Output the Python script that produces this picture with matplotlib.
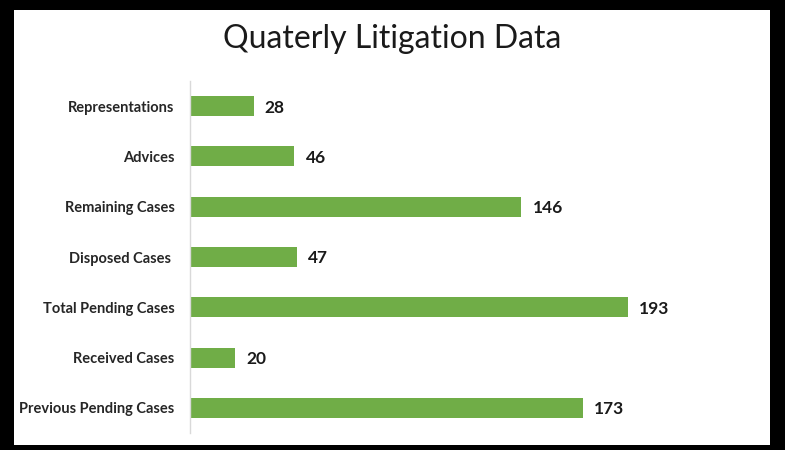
import matplotlib
matplotlib.use("Agg")
import matplotlib.pyplot as plt
from matplotlib.patches import Rectangle

# Chart data (bottom to top as drawn)
categories = ["Previous Pending Cases", "Received Cases", "Total Pending Cases",
              "Disposed Cases ", "Remaining Cases", "Advices", "Representations"]
values = [173, 20, 193, 47, 146, 46, 28]

plt.rcParams['font.family'] = ['Lato', 'DejaVu Sans']

fig = plt.figure(figsize=(7.85, 4.5), dpi=100, facecolor='black')

# white chart area inside the black frame
fig.patches.append(Rectangle((14 / 785, 1 - 445 / 450), (770 - 14) / 785, (445 - 10) / 450,
                             transform=fig.transFigure, facecolor='white',
                             edgecolor='none', zorder=-10))

ax = fig.add_axes([190 / 785, 1 - 433 / 450, (757.5 - 190) / 785, (433 - 81) / 450])
ax.set_facecolor('none')

y = range(len(categories))
ax.barh(y, values, height=0.4, color='#70AD47')

for yi, v in zip(y, values):
    ax.annotate(str(v), (v, yi), xytext=(8, -1), textcoords='offset points',
                va='center', ha='left', fontsize=12.5, fontweight='bold',
                color='#1a1a1a')

ax.set_xlim(0, 250)
ax.set_ylim(-0.5, 6.5)
ax.set_yticks(list(y))
ax.set_yticklabels(categories, fontsize=10.5, fontweight='bold', color='#262626')
ax.tick_params(axis='y', length=0, pad=11)
ax.set_xticks([])

for side in ['top', 'right', 'bottom']:
    ax.spines[side].set_visible(False)
ax.spines['left'].set_color('#D9D9D9')
ax.spines['left'].set_linewidth(1)

fig.text(0.5, 1 - 48 / 450, "Quaterly Litigation Data", ha='center', va='baseline',
         fontsize=23, color='#1a1a1a')

fig.savefig("out.png", dpi=100, facecolor=fig.get_facecolor())
